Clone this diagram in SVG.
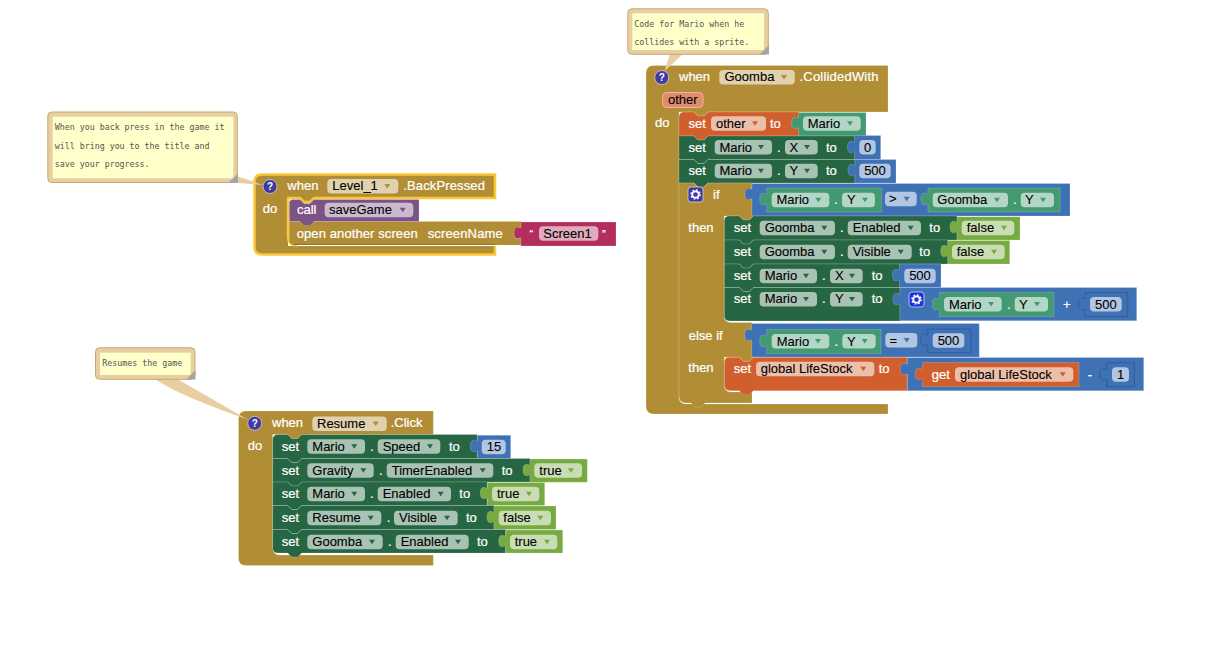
<svg xmlns="http://www.w3.org/2000/svg" xmlns:xlink="http://www.w3.org/1999/xlink" width="1216" height="648" viewBox="0 0 1216 648">
<style>
text{font-family:"Liberation Sans",Arial,sans-serif;font-size:13px;fill:#000;stroke:#000;stroke-width:.1}
.w{fill:#fff;stroke:#fff;stroke-width:.22}
.m{font-family:"DejaVu Sans Mono","Liberation Mono",monospace;font-size:8.3px;fill:#555;stroke:none}
.c{text-anchor:middle}
.p{fill:#fff;fill-opacity:.6}
.gold{fill:#b18e35}.grn{fill:#266643}.org{fill:#d05f2d}.blu{fill:#3f71b5}.cmp{fill:#439970}.lgr{fill:#77ab41}.pnk{fill:#b32d5e}.pur{fill:#7c5385}
.s{stroke:#fff;stroke-opacity:.18;stroke-width:1}
.i{stroke:#325d9a;stroke-width:1}
.sel{fill:none;stroke:#f9c737;stroke-width:2.500}
.cb{fill:#e8cfa3;stroke:#c9a86f;stroke-width:1}
.cp{fill:#e8cfa3}
.ci{fill:#ffffc9}
.h{fill:#a5a5a5}
.hl{fill:#413a9e;stroke:#cfcfe8;stroke-width:.8}
.hq{font-size:10px;font-weight:bold;fill:#fff;stroke:none;text-anchor:middle}
</style>
<defs>
<path id="t" d="M0 0h6l-3 4.500z"/>
<g id="gear"><circle r="3.200" fill="none" stroke="#fff" stroke-width="1.800"/><circle r="4.500" fill="none" stroke="#fff" stroke-width="1.500" stroke-dasharray="1.700 1.830"/></g>
</defs>

<g id="level1-backpressed">
<path class="gold" d="M262 174.500H495V198.500H314l-4 4h-6l-4-4H288V246H495V254.500H262Q254.500 254.500 254.500 247V182Q254.500 174.500 262 174.500Z"/>
<path class="sel" d="M297 245.500Q288 245 288 237V198H300l4 4h6l4-4H495V174.500H262Q254.500 174.500 254.500 182V247Q254.500 254.500 262 254.500H495V246"/>
<circle class="hl" cx="270" cy="186.500" r="7"/><text class="hq" x="270" y="190.300">?</text>
<text class="w" x="287.300" y="190">when</text>
<rect class="p" x="327.300" y="179" width="71" height="14.500" rx="4"/><text x="332.300" y="190">Level_1</text><use href="#t" class="gold" x="384.300" y="184"/>
<text class="w" x="403.300" y="190" letter-spacing=".13">.BackPressed</text>
<text class="w" x="262.700" y="213">do</text>
<path class="gold" d="M289.300 221.500H521V228h-1c-4 2-6 0-6 5s2 7 6 5h1V245H294Q289.300 244 289.300 240Z"/>
<path d="M294 244.500H495" stroke="#8d7130" stroke-width="1" fill="none"/>
<path class="pur s" d="M289.300 203Q289.300 199.500 293 199.500H300l4 4h6l4-4H419V221.500H314l-4 4h-6l-4-4H289.300Z"/>
<text class="w" x="297" y="214">call</text>
<rect class="p" x="324.700" y="202.700" width="88.600" height="14.500" rx="4"/><text x="329" y="214">saveGame</text><use href="#t" class="pur" x="399.700" y="207.700"/>
<text class="w" x="296.700" y="238" letter-spacing=".1">open another screen</text>
<text class="w" x="427.700" y="238" letter-spacing=".15">screenName</text>
<path class="pnk s" d="M521 222H616V246H521V238h-1c-4 2-6 0-6-5s2-7 6-5h1Z"/>
<text class="w" x="529.500" y="238" style="font-size:11px">“</text>
<rect class="p" x="539" y="226.300" width="59.300" height="14.500" rx="4"/><text x="543.300" y="238">Screen1</text>
<text class="w" x="602" y="238" style="font-size:11px">”</text>
</g>

<g id="resume-click">
<path class="gold s" d="M246 411H433.300V434.500H301.700l-4 4h-6l-4-4H272.700V547Q272.700 555 280 555H433.300V565.500H246Q238.500 565.500 238.500 558V418.500Q238.500 411 246 411Z"/>
<circle class="hl" cx="254.700" cy="423.300" r="7"/><text class="hq" x="254.700" y="427">?</text>
<text class="w" x="272" y="427">when</text>
<rect class="p" x="312.300" y="416.500" width="74.400" height="14.500" rx="4"/><text x="317" y="427.500">Resume</text><use href="#t" class="gold" x="372.700" y="421.500"/>
<text class="w" x="390.700" y="427">.Click</text>
<text class="w" x="247.700" y="450">do</text>

<g id="resume-row1">
<path class="grn s" d="M272.700 440Q272.700 434.500 278 434.500H287.700l4 4h6l4-4H477.300V458.500H301.700l-4 4h-6l-4-4H272.700Z"/>
<text class="w" x="281.700" y="451">set</text>
<rect class="p" x="307.300" y="439.300" width="57.700" height="14.500" rx="4"/><text x="312.300" y="451">Mario</text><use href="#t" class="grn" x="351.300" y="444.300"/>
<text class="w" x="370" y="451">.</text>
<rect class="p" x="377.700" y="439.300" width="62.600" height="14.500" rx="4"/><text x="382.700" y="451">Speed</text><use href="#t" class="grn" x="427" y="444.300"/>
<text class="w" x="449" y="451">to</text>
<path class="blu s" d="M477.300 435.300H510.700V458.500H477.300V451h-1c-4 2-6 0-6-5s2-7 6-5h1Z"/>
<rect class="p" x="481.700" y="439.700" width="24" height="14.500" rx="4"/><text class="c" x="494" y="451">15</text>
</g>
<g id="resume-row2">
<path class="grn s" d="M272.700 458.500H287.700l4 4h6l4-4H530V482H301.700l-4 4h-6l-4-4H272.700Z"/>
<text class="w" x="281.700" y="475">set</text>
<rect class="p" x="307.300" y="463.300" width="66.400" height="14.500" rx="4"/><text x="312.300" y="475">Gravity</text><use href="#t" class="grn" x="360.300" y="468.300"/>
<text class="w" x="379" y="475">.</text>
<rect class="p" x="386.700" y="463.300" width="106.600" height="14.500" rx="4"/><text x="391.700" y="475">TimerEnabled</text><use href="#t" class="grn" x="479.700" y="468.300"/>
<text class="w" x="501.700" y="475">to</text>
<path class="lgr s" d="M530 459H587.300V482.300H530V475h-1c-4 2-6 0-6-5s2-7 6-5h1Z"/>
<rect class="p" x="534.300" y="463.300" width="47.700" height="14.500" rx="4"/><text x="539.300" y="475">true</text><use href="#t" class="lgr" x="568" y="468.300"/>
</g>
<g id="resume-row3">
<path class="grn s" d="M272.700 482H287.700l4 4h6l4-4H487.300V505.500H301.700l-4 4h-6l-4-4H272.700Z"/>
<text class="w" x="281.700" y="498">set</text>
<rect class="p" x="307.300" y="486.700" width="57.700" height="14.500" rx="4"/><text x="312.300" y="498">Mario</text><use href="#t" class="grn" x="351.300" y="491.700"/>
<text class="w" x="370" y="498">.</text>
<rect class="p" x="377.700" y="486.700" width="73.300" height="14.500" rx="4"/><text x="382.700" y="498">Enabled</text><use href="#t" class="grn" x="437.700" y="491.700"/>
<text class="w" x="459.300" y="498">to</text>
<path class="lgr s" d="M487.300 482.500H544.700V505.500H487.300V498h-1c-4 2-6 0-6-5s2-7 6-5h1Z"/>
<rect class="p" x="492" y="486.700" width="47.300" height="14.500" rx="4"/><text x="497" y="498">true</text><use href="#t" class="lgr" x="526" y="491.700"/>
</g>
<g id="resume-row4">
<path class="grn s" d="M272.700 505.500H287.700l4 4h6l4-4H494V529.500H301.700l-4 4h-6l-4-4H272.700Z"/>
<text class="w" x="281.700" y="522">set</text>
<rect class="p" x="307.300" y="510.700" width="74" height="14.500" rx="4"/><text x="312.300" y="522">Resume</text><use href="#t" class="grn" x="367.700" y="515.700"/>
<text class="w" x="386.700" y="522">.</text>
<rect class="p" x="394" y="510.700" width="63.700" height="14.500" rx="4"/><text x="399" y="522">Visible</text><use href="#t" class="grn" x="444" y="515.700"/>
<text class="w" x="466" y="522">to</text>
<path class="lgr s" d="M494 506H556V529.500H494V522h-1c-4 2-6 0-6-5s2-7 6-5h1Z"/>
<rect class="p" x="498.700" y="510.700" width="52.300" height="14.500" rx="4"/><text x="503.300" y="522">false</text><use href="#t" class="lgr" x="537.300" y="515.700"/>
</g>
<g id="resume-row5">
<path class="grn s" d="M272.700 529.500H287.700l4 4h6l4-4H505.700V553H301.700l-4 4h-6l-4-4H278Q272.700 553 272.700 548Z"/>
<text class="w" x="281.700" y="546">set</text>
<rect class="p" x="307.300" y="534.700" width="75.400" height="14.500" rx="4"/><text x="312.300" y="546">Goomba</text><use href="#t" class="grn" x="369" y="539.700"/>
<text class="w" x="388" y="546">.</text>
<rect class="p" x="395.700" y="534.700" width="73" height="14.500" rx="4"/><text x="400.700" y="546">Enabled</text><use href="#t" class="grn" x="455" y="539.700"/>
<text class="w" x="477" y="546">to</text>
<path class="lgr s" d="M505.700 530H562.700V553H505.700V546h-1c-4 2-6 0-6-5s2-7 6-5h1Z"/>
<rect class="p" x="510" y="534.700" width="47.300" height="14.500" rx="4"/><text x="514.700" y="546">true</text><use href="#t" class="lgr" x="544" y="539.700"/>
</g>
</g>

<g id="goomba-collidedwith">
<path class="gold s" d="M654 65.500H888V112H708l-4 4h-6l-4-4H679V397Q679 404 686 404H888V414H654Q646 414 646 406V73.500Q646 65.500 654 65.500Z"/>
<circle class="hl" cx="661.700" cy="77.500" r="7"/><text class="hq" x="661.700" y="81.200">?</text>
<text class="w" x="679" y="81">when</text>
<rect class="p" x="719.300" y="70" width="75.500" height="14.500" rx="4"/><text x="724.500" y="81">Goomba</text><use href="#t" class="gold" x="781" y="75"/>
<text class="w" x="799.500" y="81" letter-spacing=".2">.CollidedWith</text>
<rect x="662.500" y="92.500" width="40.500" height="15" rx="4" fill="#e08c6c" stroke="#eeb49b"/><text x="668" y="104">other</text>
<text class="w" x="655" y="127">do</text>

<g id="set-other">
<path class="org s" d="M679 117Q679 112 684 112H694l4 4h6l4-4H799V136H708l-4 4h-6l-4-4H679Z"/>
<text class="w" x="688.500" y="128">set</text>
<rect class="p" x="711" y="116.300" width="55" height="14.500" rx="4"/><text x="716" y="128">other</text><use href="#t" class="org" x="752" y="121.300"/>
<text class="w" x="770" y="128">to</text>
<path class="cmp s" d="M798.500 112.500H866V136H798.500V128h-1c-4 2-6 0-6-5s2-7 6-5h1Z"/>
<rect class="p" x="803" y="116.300" width="57.700" height="14.500" rx="4"/><text x="807.700" y="128">Mario</text><use href="#t" class="cmp" x="847" y="121.300"/>
</g>
<g id="set-mario-x">
<path class="grn s" d="M679 136H694l4 4h6l4-4H855V159.500H708l-4 4h-6l-4-4H679Z"/>
<text class="w" x="688.500" y="151.500">set</text>
<rect class="p" x="714.700" y="140" width="57.300" height="14.500" rx="4"/><text x="719.500" y="151.500">Mario</text><use href="#t" class="grn" x="758" y="145"/>
<text class="w" x="777" y="151.500">.</text>
<rect class="p" x="785" y="140" width="32.700" height="14.500" rx="4"/><text x="789.500" y="151.500">X</text><use href="#t" class="grn" x="804" y="145"/>
<text class="w" x="826" y="151.500">to</text>
<path class="blu s" d="M854.500 135.500H880.700V159.500H854.500V152h-1c-4 2-6 0-6-5s2-7 6-5h1Z"/>
<rect class="p" x="859.300" y="140" width="16.400" height="14.500" rx="4"/><text class="c" x="867.500" y="151.500">0</text>
</g>
<g id="set-mario-y">
<path class="grn s" d="M679 159.500H694l4 4h6l4-4H855V183H708l-4 4h-6l-4-4H679Z"/>
<text class="w" x="688.500" y="175">set</text>
<rect class="p" x="714.700" y="163.700" width="57.300" height="14.500" rx="4"/><text x="719.500" y="175">Mario</text><use href="#t" class="grn" x="758" y="168.700"/>
<text class="w" x="777" y="175">.</text>
<rect class="p" x="785" y="163.700" width="32.700" height="14.500" rx="4"/><text x="789.500" y="175">Y</text><use href="#t" class="grn" x="804" y="168.700"/>
<text class="w" x="826" y="175">to</text>
<path class="blu s" d="M855 159.500H896V183H855V175h-1c-4 2-6 0-6-5s2-7 6-5h1Z"/>
<rect class="p" x="859.300" y="163.700" width="31.400" height="14.500" rx="4"/><text class="c" x="875" y="175">500</text>
</g>

<g id="if-block">
<path class="gold s" d="M679 183H694l4 4h6l4-4H752V216H753.300l-4 4h-6l-4-4H724.300V316Q724.300 322.500 731 322.500H752V357.300H753.300l-4 4h-6l-4-4H724.300V385Q724.300 392 731 392H752V403H705l-4 4h-6l-4-4H686Q679 403 679 396Z"/>
<rect x="688" y="187" width="15" height="15" rx="3" fill="#413a9e" stroke="#cfcfe8" stroke-width=".8"/><use href="#gear" x="695.500" y="194.500"/>
<text class="w" x="713" y="199">if</text>
<text class="w" x="688.300" y="231.500">then</text>
<text class="w" x="688.700" y="340">else if</text>
<text class="w" x="688.300" y="372">then</text>
</g>

<g id="cond-gt">
<path class="blu s" d="M752 183.500H1070V216H752V199h-1c-4 2-6 0-6-5s2-7 6-5h1Z"/>
<path class="cmp s" d="M766.700 188H881.700V212H766.700V204h-1c-4 2-6 0-6-5s2-7 6-5h1Z"/>
<rect class="p" x="771.700" y="192.700" width="57.600" height="14.500" rx="4"/><text x="776.500" y="204">Mario</text><use href="#t" class="cmp" x="815.300" y="197.700"/>
<text class="w" x="834" y="204">.</text>
<rect class="p" x="842" y="192.700" width="33" height="14.500" rx="4"/><text x="847" y="204">Y</text><use href="#t" class="cmp" x="862" y="197.700"/>
<rect class="p" x="885" y="191.700" width="31.700" height="14.500" rx="4"/><text x="889" y="203">&gt;</text><use href="#t" class="blu" x="903.700" y="196.700"/>
<path class="cmp s" d="M928 188H1060V212H928V204h-1c-4 2-6 0-6-5s2-7 6-5h1Z"/>
<rect class="p" x="932.700" y="192.700" width="75.300" height="14.500" rx="4"/><text x="937.300" y="204">Goomba</text><use href="#t" class="cmp" x="994" y="197.700"/>
<text class="w" x="1013" y="204">.</text>
<rect class="p" x="1020.700" y="192.700" width="33.300" height="14.500" rx="4"/><text x="1025" y="204">Y</text><use href="#t" class="cmp" x="1040" y="197.700"/>
</g>

<g id="set-goomba-enabled">
<path class="grn s" d="M724.300 221Q724.300 216 729.300 216H739.300l4 4h6l4-4H957V240H753.300l-4 4h-6l-4-4H724.300Z"/>
<text class="w" x="733.700" y="232">set</text>
<rect class="p" x="759.700" y="220.700" width="75.300" height="14.500" rx="4"/><text x="764.700" y="232">Goomba</text><use href="#t" class="grn" x="821.300" y="225.700"/>
<text class="w" x="840" y="232">.</text>
<rect class="p" x="847.700" y="220.700" width="73.300" height="14.500" rx="4"/><text x="852.700" y="232">Enabled</text><use href="#t" class="grn" x="907.700" y="225.700"/>
<text class="w" x="929.300" y="232">to</text>
<path class="lgr s" d="M957 216.700H1020V240H957V232h-1c-4 2-6 0-6-5s2-7 6-5h1Z"/>
<rect class="p" x="961.700" y="220.700" width="52.600" height="14.500" rx="4"/><text x="966.700" y="232">false</text><use href="#t" class="lgr" x="1001" y="225.700"/>
</g>
<g id="set-goomba-visible">
<path class="grn s" d="M724.300 240H739.300l4 4h6l4-4H948V264H753.300l-4 4h-6l-4-4H724.300Z"/>
<text class="w" x="733.700" y="256">set</text>
<rect class="p" x="759.700" y="244.700" width="75.300" height="14.500" rx="4"/><text x="764.700" y="256">Goomba</text><use href="#t" class="grn" x="821.300" y="249.700"/>
<text class="w" x="840" y="256">.</text>
<rect class="p" x="847.700" y="244.700" width="64" height="14.500" rx="4"/><text x="852.700" y="256">Visible</text><use href="#t" class="grn" x="897.700" y="249.700"/>
<text class="w" x="919.300" y="256">to</text>
<path class="lgr s" d="M947.700 240.500H1009.700V264H947.700V256h-1c-4 2-6 0-6-5s2-7 6-5h1Z"/>
<rect class="p" x="952" y="244.700" width="52.700" height="14.500" rx="4"/><text x="956.700" y="256">false</text><use href="#t" class="lgr" x="991" y="249.700"/>
</g>
<g id="set-mario-x2">
<path class="grn s" d="M724.300 264H739.300l4 4h6l4-4H900V287.500H753.300l-4 4h-6l-4-4H724.300Z"/>
<text class="w" x="733.700" y="280">set</text>
<rect class="p" x="759.700" y="268.700" width="57.300" height="14.500" rx="4"/><text x="764.700" y="280">Mario</text><use href="#t" class="grn" x="803" y="273.700"/>
<text class="w" x="822" y="280">.</text>
<rect class="p" x="830" y="268.700" width="32.700" height="14.500" rx="4"/><text x="835" y="280">X</text><use href="#t" class="grn" x="849" y="273.700"/>
<text class="w" x="871.700" y="280">to</text>
<path class="blu s" d="M899.500 264H941V287.500H899.500V280h-1c-4 2-6 0-6-5s2-7 6-5h1Z"/>
<rect class="p" x="904.300" y="268.700" width="31.400" height="14.500" rx="4"/><text class="c" x="920" y="280">500</text>
</g>
<g id="set-mario-y2">
<path class="grn s" d="M724.300 287.500H739.300l4 4h6l4-4H900V321H730Q724.300 321 724.300 316Z"/>
<text class="w" x="733.700" y="303">set</text>
<rect class="p" x="759.700" y="292" width="57.300" height="14.500" rx="4"/><text x="764.700" y="303">Mario</text><use href="#t" class="grn" x="803" y="297"/>
<text class="w" x="822" y="303">.</text>
<rect class="p" x="830" y="292" width="32.700" height="14.500" rx="4"/><text x="835" y="303">Y</text><use href="#t" class="grn" x="849" y="297"/>
<text class="w" x="871.700" y="303">to</text>
<path class="blu s" d="M900 287.500H1136.700V320.700H900V304h-1c-4 2-6 0-6-5s2-7 6-5h1Z"/>
<rect x="909" y="292" width="15" height="15" rx="3" fill="#2233dd" stroke="#cfd5ee" stroke-width=".8"/><use href="#gear" x="916.500" y="299.500"/>
<path class="cmp s" d="M939.300 292.500H1054V316.500H939.300V309h-1c-4 2-6 0-6-5s2-7 6-5h1Z"/>
<rect class="p" x="944" y="297" width="57.700" height="14.500" rx="4"/><text x="949" y="308.500">Mario</text><use href="#t" class="cmp" x="988" y="302"/>
<text class="w" x="1007" y="308.500">.</text>
<rect class="p" x="1014.700" y="297" width="33.300" height="14.500" rx="4"/><text x="1019" y="308.500">Y</text><use href="#t" class="cmp" x="1034" y="302"/>
<text class="w c" x="1066.700" y="308.500">+</text>
<path class="blu i" d="M1085 292.700H1127.700V316.700H1085V309h-1c-4 2-6 0-6-5s2-7 6-5h1Z"/>
<rect class="p" x="1090" y="297" width="31.700" height="14.500" rx="4"/><text class="c" x="1105.800" y="308.500">500</text>
</g>

<g id="cond-eq">
<path class="blu s" d="M751.700 323.500H979.300V357H751.700V340h-1c-4 2-6 0-6-5s2-7 6-5h1Z"/>
<path class="cmp s" d="M766.700 329.500H881V353.700H766.700V346h-1c-4 2-6 0-6-5s2-7 6-5h1Z"/>
<rect class="p" x="771.700" y="334" width="57.600" height="14.500" rx="4"/><text x="776.700" y="345.500">Mario</text><use href="#t" class="cmp" x="815" y="339"/>
<text class="w" x="834.500" y="345.500">.</text>
<rect class="p" x="842.300" y="334" width="33.400" height="14.500" rx="4"/><text x="847" y="345.500">Y</text><use href="#t" class="cmp" x="861.700" y="339"/>
<rect class="p" x="885.300" y="333" width="32" height="14.500" rx="4"/><text x="889.500" y="344.500">=</text><use href="#t" class="blu" x="903.700" y="338"/>
<path class="blu i" d="M927.700 329H970.700V352.700H927.700V345h-1c-4 2-6 0-6-5s2-7 6-5h1Z"/>
<rect class="p" x="932.700" y="333.300" width="31.600" height="14.500" rx="4"/><text class="c" x="948.500" y="345">500</text>
</g>

<g id="set-lifestock">
<path class="org s" d="M724.300 362.500Q724.300 357.300 729.300 357.300H739.300l4 4h6l4-4H907.300V390.700H753.300l-4 4h-6l-4-4H730Q724.300 390.700 724.300 385Z"/>
<text class="w" x="733.700" y="373">set</text>
<rect class="p" x="756" y="361.700" width="118.300" height="14.500" rx="4"/><text x="760.700" y="373">global LifeStock</text><use href="#t" class="org" x="860.300" y="366.700"/>
<text class="w" x="878.700" y="373">to</text>
<path class="blu s" d="M907.300 357.500H1143.700V390.700H907.300V374h-1c-4 2-6 0-6-5s2-7 6-5h1Z"/>
<path class="org s" d="M922.300 362.500H1079V386.700H922.300V379h-1c-4 2-6 0-6-5s2-7 6-5h1Z"/>
<text class="w" x="931.700" y="379">get</text>
<rect class="p" x="955" y="367.300" width="118.300" height="14.500" rx="4"/><text x="960" y="379">global LifeStock</text><use href="#t" class="org" x="1059.700" y="372.300"/>
<text class="w c" x="1090" y="379">-</text>
<path class="blu i" d="M1106.700 362.700H1134.300V386.700H1106.700V379h-1c-4 2-6 0-6-5s2-7 6-5h1Z"/>
<rect class="p" x="1112" y="367.300" width="17" height="14.500" rx="4"/><text class="c" x="1120.500" y="379">1</text>
</g>
</g>

<g id="connectors">
<path class="cp" d="M235 175.500L263.200 185L233 182.500Z"/>
<path class="cp" d="M670 54L683 54L664.500 71Z"/>
<path class="cp" d="M155 379Q176 394 238 416L248.500 420L177.300 379Z"/>
</g>

<g id="comment-backpressed">
<rect class="cb" x="47.800" y="112" width="189.500" height="70.500" rx="4"/>
<rect class="ci" x="52.700" y="116.700" width="180.600" height="61.600"/>
<text class="m" x="54.700" y="130">When you back press in the game it</text>
<text class="m" x="54.700" y="149">will bring you to the title and</text>
<text class="m" x="54.700" y="167">save your progress.</text>
<path class="h" d="M228 183L238 173.500V183Z"/>
</g>
<g id="comment-collided">
<rect class="cb" x="627.800" y="8.800" width="140.500" height="45.500" rx="4"/>
<rect class="ci" x="632.300" y="13.300" width="131.700" height="36.700"/>
<text class="m" x="634.300" y="26.700">Code for Mario when he</text>
<text class="m" x="634.300" y="44.700">collides with a sprite.</text>
<path class="h" d="M759.500 54.500L769 45V54.500Z"/>
</g>
<g id="comment-resume">
<rect class="cb" x="95.500" y="347.800" width="99.500" height="31.500" rx="4"/>
<rect class="ci" x="100" y="352.700" width="90.700" height="22.300"/>
<text class="m" x="102.300" y="366">Resumes the game</text>
<path class="h" d="M186 379.500L195.500 370V379.500Z"/>
</g>
</svg>
